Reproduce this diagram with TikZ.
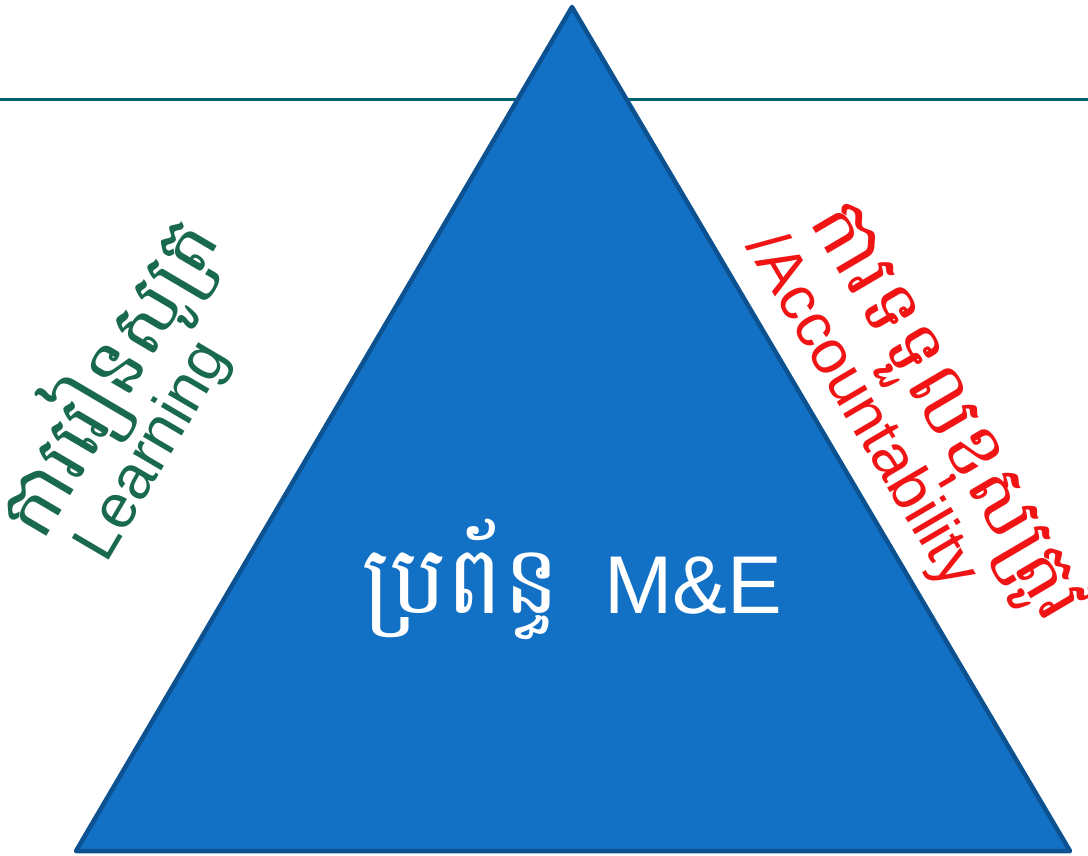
\documentclass[tikz,border=0pt]{standalone}
\usepackage{fontspec}
\setmainfont{Liberation Sans}
\newfontfamily\khmerfont[Script=Khmer]{Battambang}
\definecolor{tealline}{RGB}{0,100,105}
\definecolor{triblue}{RGB}{18,112,197}
\definecolor{triedge}{RGB}{12,82,145}
\definecolor{learngreen}{RGB}{25,105,78}
\definecolor{accred}{RGB}{240,20,20}
\tikzset{
  sidetext/.style={inner sep=0pt, font=\fontsize{62}{70}\selectfont},
  khsidetext/.style={inner sep=0pt, font=\khmerfont\fontsize{79}{90}\selectfont},
}
\begin{document}
\begin{tikzpicture}[x=1pt,y=-1pt]
\useasboundingbox (0,0) rectangle (1088,856);
\coordinate (lineL) at (0,100);
\coordinate (lineR) at (1088,100);
\draw[tealline, line width=3pt] (lineL) -- (lineR);
\coordinate (apex) at (572,7);
\coordinate (bl) at (76,851);
\coordinate (br) at (1070,851);
\draw[fill=triblue, draw=triedge, line width=4.5pt, line join=round] (apex) -- (br) -- (bl) -- cycle;
\node[khsidetext, text=learngreen, rotate=59.5] (lk) at (106,376) {ការរៀនសូត្រ};
\node[sidetext, text=learngreen, rotate=59.5] (le) at (154,452) {Learning};
\node[khsidetext, text=accred, rotate=-59.5] (rk) at (945,414) {ការទទួលខុសត្រូវ};
\node[sidetext, text=accred, rotate=-59.5] (ra) at (861,411) {/Accountability};
\node[inner sep=0pt, anchor=base, text=white, font=\fontsize{82}{90}\selectfont] (c) at (572,613) {{\khmerfont\fontsize{95}{100}\selectfont ប្រព័ន្ធ}\hspace{44pt}M\&E};
\end{tikzpicture}
\end{document}
